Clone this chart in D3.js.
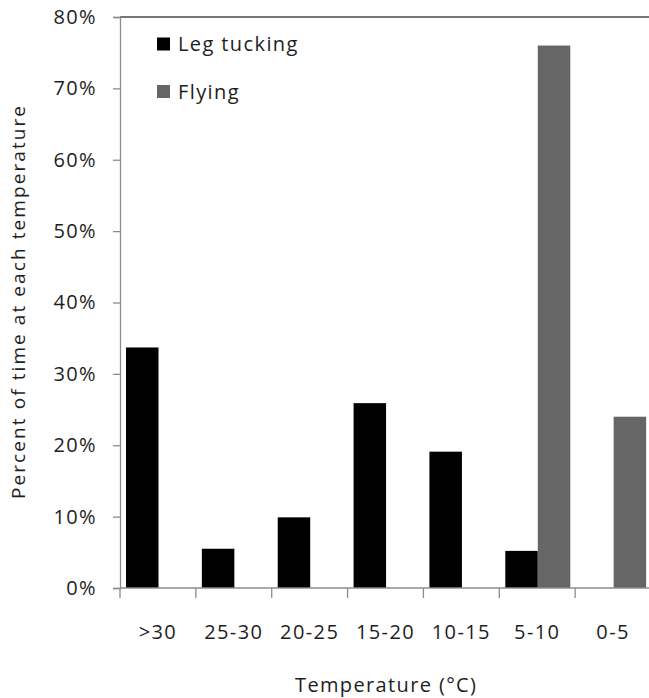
<!DOCTYPE html>
<html>
<head>
<meta charset="utf-8">
<script src="https://cdn.jsdelivr.net/npm/d3@7"></script>
<style>
  html, body { margin: 0; padding: 0; background: #fff; }
  svg { display: block; }
  text { font-family: "Open Sans", sans-serif; fill: #1e1e1e; }
</style>
</head>
<body>
<svg id="chart" width="649" height="698"></svg>
<script>
const categories = [">30", "25-30", "20-25", "15-20", "10-15", "5-10", "0-5"];
const seriesNames = ["Leg tucking", "Flying"];
const legTucking = [33.7, 5.5, 9.9, 25.9, 19.1, 5.2, 0];
const flying = [0, 0, 0, 0, 0, 76.0, 24.0];
const yTicks = [0, 10, 20, 30, 40, 50, 60, 70, 80];
const seriesColors = ["#000000", "#666666"];
const xTitle = "Temperature (°C)";
const yTitle = "Percent of time at each temperature";

(function () {
const svg = d3.select("#chart");
const mLeft = 120, mRight = 651, mTop = 17, mBottom = 588;

const x0 = d3.scaleBand().domain(categories).range([mLeft, mRight]).padding(0);
const x1 = d3.scaleBand().domain(seriesNames).range([6, 71]).padding(0);
const y = d3.scaleLinear().domain([0, 80]).range([mBottom, mTop]);

const seriesValues = [legTucking, flying];

// top border line
svg.append("line")
  .attr("x1", mLeft).attr("x2", 649).attr("y1", mTop).attr("y2", mTop)
  .attr("stroke", "#4a4a4a").attr("stroke-width", 1.6);

// bars
seriesNames.forEach((s, si) => {
  svg.append("g").selectAll("rect")
    .data(categories.map((c, i) => ({c, v: seriesValues[si][i]})).filter(d => d.v > 0))
    .join("rect")
    .attr("x", d => x0(d.c) + x1(s))
    .attr("width", x1.bandwidth())
    .attr("y", d => y(d.v))
    .attr("height", d => y(0) - y(d.v))
    .attr("fill", seriesColors[si]);
});

// y axis
const yAxis = svg.append("g")
  .attr("transform", `translate(${mLeft},0)`)
  .call(d3.axisLeft(y).tickValues(yTicks).tickFormat(d => d + "%").tickSize(7).tickPadding(16));
yAxis.select(".domain").attr("stroke", "#8c8c8c").attr("stroke-width", 1.3);
yAxis.selectAll(".tick line").attr("stroke", "#8c8c8c").attr("stroke-width", 1.3);
yAxis.selectAll(".tick text")
  .style("font-family", "'Open Sans', sans-serif")
  .style("font-size", "20px")
  .style("letter-spacing", "1.4px")
  .attr("fill", "#1e1e1e");

// x axis
const xAxis = svg.append("g")
  .attr("transform", `translate(0,${mBottom})`)
  .call(d3.axisBottom(x0).tickSize(0).tickPadding(0));
xAxis.select(".domain").remove();
xAxis.selectAll(".tick line").remove();
svg.append("line")
  .attr("x1", mLeft).attr("x2", 649).attr("y1", mBottom).attr("y2", mBottom)
  .attr("stroke", "#8c8c8c").attr("stroke-width", 1.3);
svg.append("g").selectAll("line")
  .data(categories)
  .join("line")
  .attr("x1", d => x0(d)).attr("x2", d => x0(d))
  .attr("y1", mBottom).attr("y2", mBottom + 10)
  .attr("stroke", "#8c8c8c").attr("stroke-width", 1.3);
xAxis.selectAll(".tick text")
  .attr("y", 51)
  .attr("dy", 0)
  .style("font-family", "'Open Sans', sans-serif")
  .style("font-size", "20px")
  .style("letter-spacing", "1.4px")
  .attr("fill", "#1e1e1e");

// axis titles
svg.append("text")
  .attr("x", (mLeft + mRight) / 2)
  .attr("y", 692)
  .attr("text-anchor", "middle")
  .attr("textLength", 181)
  .attr("lengthAdjust", "spacing")
  .style("font-size", "20px")
  .text(xTitle);

svg.append("text")
  .attr("transform", `translate(25,${(mTop + mBottom) / 2}) rotate(-90)`)
  .attr("text-anchor", "middle")
  .attr("textLength", 393)
  .attr("lengthAdjust", "spacing")
  .style("font-size", "19px")
  .text(yTitle);

// legend
const legend = svg.append("g");
seriesNames.forEach((s, i) => {
  const gy = 37.5 + i * 47.5;
  legend.append("rect")
    .attr("x", 157).attr("y", gy).attr("width", 13).attr("height", 13)
    .attr("fill", seriesColors[i]);
  legend.append("text")
    .attr("x", 178).attr("y", gy + 13.5)
    .style("font-size", "20px")
    .style("letter-spacing", "1.4px")
    .text(s);
});
})();
</script>
</body>
</html>
